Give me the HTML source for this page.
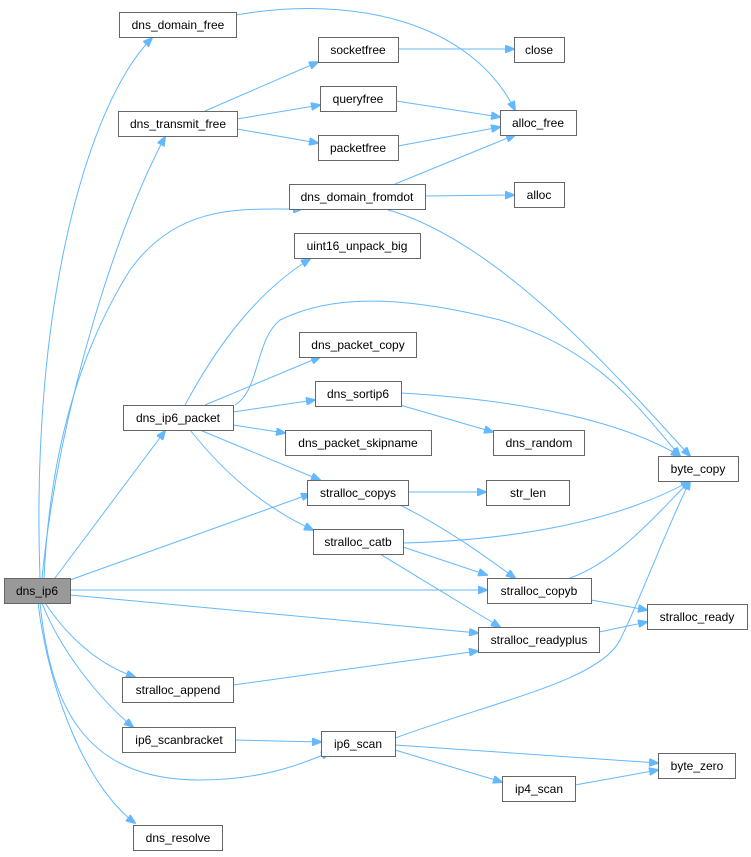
<!DOCTYPE html>
<html><head><meta charset="utf-8"><style>
html,body{margin:0;padding:0;background:#fff;}
svg{display:block;}
text{font-family:"Liberation Sans",Arial,sans-serif;font-size:12px;fill:#000;}
.n{fill:#fff;stroke:#666;stroke-width:1;}
.e{fill:none;stroke:#63b8ff;stroke-width:1;}
</style></head><body>
<svg width="751" height="857" viewBox="0 0 751 857" xmlns="http://www.w3.org/2000/svg">
<defs><marker id="a" markerWidth="10" markerHeight="8" refX="9" refY="4" orient="auto" markerUnits="userSpaceOnUse"><path d="M0,0 L10,4 L0,8 z" fill="#63b8ff" stroke="#63b8ff"/></marker></defs>
<g class="edges">
<path class="e" marker-end="url(#a)" d="M40,578 C30,300 90,100 152,38"/>
<path class="e" marker-end="url(#a)" d="M42,578 C60,400 120,220 165,137"/>
<path class="e" marker-end="url(#a)" d="M44,578 C50,450 80,350 130,270 C180,200 250,210 302,209"/>
<path class="e" marker-end="url(#a)" d="M55,578 L165,431"/>
<path class="e" marker-end="url(#a)" d="M70,580 L310,494"/>
<path class="e" marker-end="url(#a)" d="M70,590 L487,590"/>
<path class="e" marker-end="url(#a)" d="M70,595 L478,633"/>
<path class="e" marker-end="url(#a)" d="M45,603 C70,640 100,665 135,677"/>
<path class="e" marker-end="url(#a)" d="M42,603 C60,650 100,700 133,727"/>
<path class="e" marker-end="url(#a)" d="M40,603 C50,700 80,780 200,780 C260,780 300,765 330,752"/>
<path class="e" marker-end="url(#a)" d="M38,603 C50,700 90,790 135,823"/>
<path class="e" marker-end="url(#a)" d="M236,15 C350,-5 470,20 515,110"/>
<path class="e" marker-end="url(#a)" d="M205,111 L318,62"/>
<path class="e" marker-end="url(#a)" d="M237,119 L320,105"/>
<path class="e" marker-end="url(#a)" d="M237,129 L318,143"/>
<path class="e" marker-end="url(#a)" d="M398,49 L514,49"/>
<path class="e" marker-end="url(#a)" d="M396,101 L500,117"/>
<path class="e" marker-end="url(#a)" d="M398,146 L500,127"/>
<path class="e" marker-end="url(#a)" d="M395,184 L515,135"/>
<path class="e" marker-end="url(#a)" d="M425,196 L514,195"/>
<path class="e" marker-end="url(#a)" d="M385,209 C500,240 620,380 690,456"/>
<path class="e" marker-end="url(#a)" d="M185,405 C220,340 260,290 310,259"/>
<path class="e" marker-end="url(#a)" d="M235,405 C260,390 255,340 280,320 C340,290 420,300 500,320 C600,350 640,410 680,456"/>
<path class="e" marker-end="url(#a)" d="M205,405 L320,357"/>
<path class="e" marker-end="url(#a)" d="M233,412 L315,400"/>
<path class="e" marker-end="url(#a)" d="M233,425 L285,433"/>
<path class="e" marker-end="url(#a)" d="M200,430 L320,480"/>
<path class="e" marker-end="url(#a)" d="M190,430 C230,480 270,510 313,530"/>
<path class="e" marker-end="url(#a)" d="M401,393 C520,400 620,420 680,456"/>
<path class="e" marker-end="url(#a)" d="M400,405 L493,432"/>
<path class="e" marker-end="url(#a)" d="M408,492 L486,492"/>
<path class="e" marker-end="url(#a)" d="M400,505 C450,530 490,560 515,578"/>
<path class="e" marker-end="url(#a)" d="M403,543 C520,540 620,520 690,481"/>
<path class="e" marker-end="url(#a)" d="M403,547 L487,575"/>
<path class="e" marker-end="url(#a)" d="M380,554 L500,627"/>
<path class="e" marker-end="url(#a)" d="M570,578 C620,560 660,510 690,481"/>
<path class="e" marker-end="url(#a)" d="M591,600 L647,610"/>
<path class="e" marker-end="url(#a)" d="M599,632 L647,622"/>
<path class="e" marker-end="url(#a)" d="M233,685 L478,651"/>
<path class="e" marker-end="url(#a)" d="M235,740 L321,742"/>
<path class="e" marker-end="url(#a)" d="M395,738 C500,700 600,680 620,640 C640,600 670,520 690,481"/>
<path class="e" marker-end="url(#a)" d="M395,745 L658,763"/>
<path class="e" marker-end="url(#a)" d="M395,750 L502,782"/>
<path class="e" marker-end="url(#a)" d="M575,785 L658,770"/>
</g>
<g text-anchor="middle">
<rect x="4.5" y="578.5" width="66" height="25" fill="#999" stroke="#666"/><text x="37" y="595">dns_ip6</text>
<rect class="n" x="119.5" y="12.5" width="117" height="25"/><text x="178" y="29">dns_domain_free</text>
<rect class="n" x="318.5" y="37.5" width="80" height="25"/><text x="358" y="54">socketfree</text>
<rect class="n" x="514.5" y="37.5" width="50" height="25"/><text x="539" y="54">close</text>
<rect class="n" x="118.5" y="111.5" width="119" height="25"/><text x="178" y="128">dns_transmit_free</text>
<rect class="n" x="320.5" y="86.5" width="76" height="25"/><text x="358" y="103">queryfree</text>
<rect class="n" x="500.5" y="110.5" width="76" height="25"/><text x="538" y="127">alloc_free</text>
<rect class="n" x="318.5" y="135.5" width="80" height="25"/><text x="358" y="152">packetfree</text>
<rect class="n" x="289.5" y="184.5" width="136" height="25"/><text x="357" y="201">dns_domain_fromdot</text>
<rect class="n" x="514.5" y="182.5" width="50" height="25"/><text x="539" y="199">alloc</text>
<rect class="n" x="294.5" y="233.5" width="126" height="25"/><text x="357" y="250">uint16_unpack_big</text>
<rect class="n" x="299.5" y="332.5" width="117" height="25"/><text x="358" y="349">dns_packet_copy</text>
<rect class="n" x="123.5" y="405.5" width="110" height="25"/><text x="178" y="422">dns_ip6_packet</text>
<rect class="n" x="315.5" y="381.5" width="86" height="25"/><text x="358" y="398">dns_sortip6</text>
<rect class="n" x="285.5" y="430.5" width="146" height="25"/><text x="358" y="447">dns_packet_skipname</text>
<rect class="n" x="493.5" y="430.5" width="91" height="25"/><text x="539" y="447">dns_random</text>
<rect class="n" x="658.5" y="456.5" width="80" height="25"/><text x="698" y="473">byte_copy</text>
<rect class="n" x="307.5" y="480.5" width="101" height="25"/><text x="358" y="497">stralloc_copys</text>
<rect class="n" x="486.5" y="480.5" width="83" height="25"/><text x="528" y="497">str_len</text>
<rect class="n" x="313.5" y="529.5" width="90" height="25"/><text x="358" y="546">stralloc_catb</text>
<rect class="n" x="487.5" y="578.5" width="104" height="25"/><text x="539" y="595">stralloc_copyb</text>
<rect class="n" x="647.5" y="604.5" width="100" height="25"/><text x="697" y="621">stralloc_ready</text>
<rect class="n" x="478.5" y="627.5" width="121" height="25"/><text x="539" y="644">stralloc_readyplus</text>
<rect class="n" x="122.5" y="677.5" width="111" height="25"/><text x="178" y="694">stralloc_append</text>
<rect class="n" x="122.5" y="727.5" width="113" height="25"/><text x="179" y="744">ip6_scanbracket</text>
<rect class="n" x="321.5" y="731.5" width="74" height="25"/><text x="358" y="748">ip6_scan</text>
<rect class="n" x="658.5" y="753.5" width="77" height="25"/><text x="697" y="770">byte_zero</text>
<rect class="n" x="502.5" y="776.5" width="73" height="25"/><text x="539" y="793">ip4_scan</text>
<rect class="n" x="133.5" y="825.5" width="89" height="25"/><text x="178" y="842">dns_resolve</text>
</g>
</svg>
</body></html>
